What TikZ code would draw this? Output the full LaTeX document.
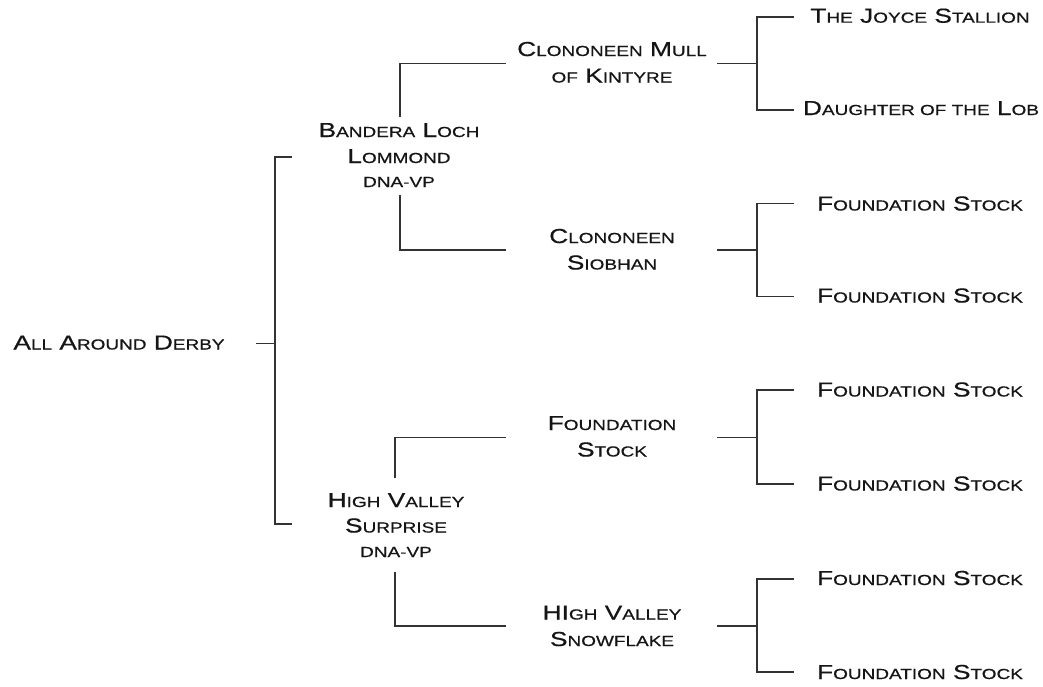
\documentclass[tikz,border=0pt]{standalone}
\usepackage{fontspec}
\newfontfamily\cgfont[FakeStretch=1.3,FakeBold=0.6]{Liberation Sans}
\newcommand\sm[1]{{\fontsize{14.6}{17}\selectfont #1}}
\definecolor{linegray}{HTML}{333333}
\definecolor{textblack}{HTML}{151515}
\tikzset{
  pedname/.style={anchor=base, inner sep=0pt, text=textblack, font=\cgfont\fontsize{20.25}{24}\selectfont},
  bracket/.style={draw=linegray, line width=1.6pt, line cap=butt, line join=miter}
}
\begin{document}
\begin{tikzpicture}[x=1pt,y=-1pt]
\useasboundingbox (0,0) rectangle (1043,686);
% ---- text nodes ----
\node[pedname] (root) at (119,349.5) {A\sm{LL} A\sm{ROUND} D\sm{ERBY}};
\node[pedname] (bll) at (399,137) {B\sm{ANDERA} L\sm{OCH}};
\node[pedname] (bll2) at (399,163) {L\sm{OMMOND}};
\node[pedname] (bll3) at (399,187) {\sm{DNA-VP}};
\node[pedname] (hvs) at (396,507) {H\sm{IGH} V\sm{ALLEY}};
\node[pedname] (hvs2) at (396,532.5) {S\sm{URPRISE}};
\node[pedname] (hvs3) at (396,557) {\sm{DNA-VP}};
\node[pedname] (cmk) at (612,56) {C\sm{LONONEEN} M\sm{ULL}};
\node[pedname] (cmk2) at (612,82.5) {\sm{OF} K\sm{INTYRE}};
\node[pedname] (cs) at (612,243) {C\sm{LONONEEN}};
\node[pedname] (cs2) at (612,269.5) {S\sm{IOBHAN}};
\node[pedname] (fs) at (612,430) {F\sm{OUNDATION}};
\node[pedname] (fs2) at (612,456.5) {S\sm{TOCK}};
\node[pedname] (hvsn) at (612,619.5) {HI\sm{GH} V\sm{ALLEY}};
\node[pedname] (hvsn2) at (612,646) {S\sm{NOWFLAKE}};
\node[pedname] (g1) at (920,22.7) {T\sm{HE} J\sm{OYCE} S\sm{TALLION}};
\node[pedname] (g2) at (921,115) {D\sm{AUGHTER OF THE} L\sm{OB}};
\node[pedname] (g3) at (920,210.5) {F\sm{OUNDATION} S\sm{TOCK}};
\node[pedname] (g4) at (920,302.5) {F\sm{OUNDATION} S\sm{TOCK}};
\node[pedname] (g5) at (920,396.5) {F\sm{OUNDATION} S\sm{TOCK}};
\node[pedname] (g6) at (920,490.5) {F\sm{OUNDATION} S\sm{TOCK}};
\node[pedname] (g7) at (920,585) {F\sm{OUNDATION} S\sm{TOCK}};
\node[pedname] (g8) at (920,679) {F\sm{OUNDATION} S\sm{TOCK}};
% ---- connector coordinates ----
\coordinate (r0) at (256,343.5);
\coordinate (rj) at (275,343.5);
\coordinate (rt) at (275,157);
\coordinate (rb) at (275,524);
\coordinate (rte) at (292,157);
\coordinate (rbe) at (292,524);
% gen1 upper
\coordinate (a1) at (400,116.5);
\coordinate (a2) at (400,63.5);
\coordinate (a3) at (506,63.5);
\coordinate (a4) at (400,195);
\coordinate (a5) at (400,250);
\coordinate (a6) at (506,250);
% gen1 lower
\coordinate (b1) at (395,478);
\coordinate (b2) at (395,437.5);
\coordinate (b3) at (506,437.5);
\coordinate (b4) at (395,571.5);
\coordinate (b5) at (395,626);
\coordinate (b6) at (506,626);
% ---- connectors ----
\draw[bracket] (r0) -- (rj);
\draw[bracket] (rte) -- (rt) -- (rb) -- (rbe);
\draw[bracket] (a1) -- (a2) -- (a3);
\draw[bracket] (a4) -- (a5) -- (a6);
\draw[bracket] (b1) -- (b2) -- (b3);
\draw[bracket] (b4) -- (b5) -- (b6);
% gen2 -> gen3 brackets
\foreach \nm/\yc/\yt/\yb in {p/63.5/17/110, q/250/203.5/296.5, s/437.5/390/484, t/626/579/672}{
  \coordinate (\nm0) at (717,\yc);
  \coordinate (\nm1) at (757,\yc);
  \coordinate (\nm2) at (757,\yt);
  \coordinate (\nm3) at (757,\yb);
  \coordinate (\nm4) at (794,\yt);
  \coordinate (\nm5) at (794,\yb);
  \draw[bracket] (\nm0) -- (\nm1);
  \draw[bracket] (\nm4) -- (\nm2) -- (\nm3) -- (\nm5);
}
\end{tikzpicture}
\end{document}
